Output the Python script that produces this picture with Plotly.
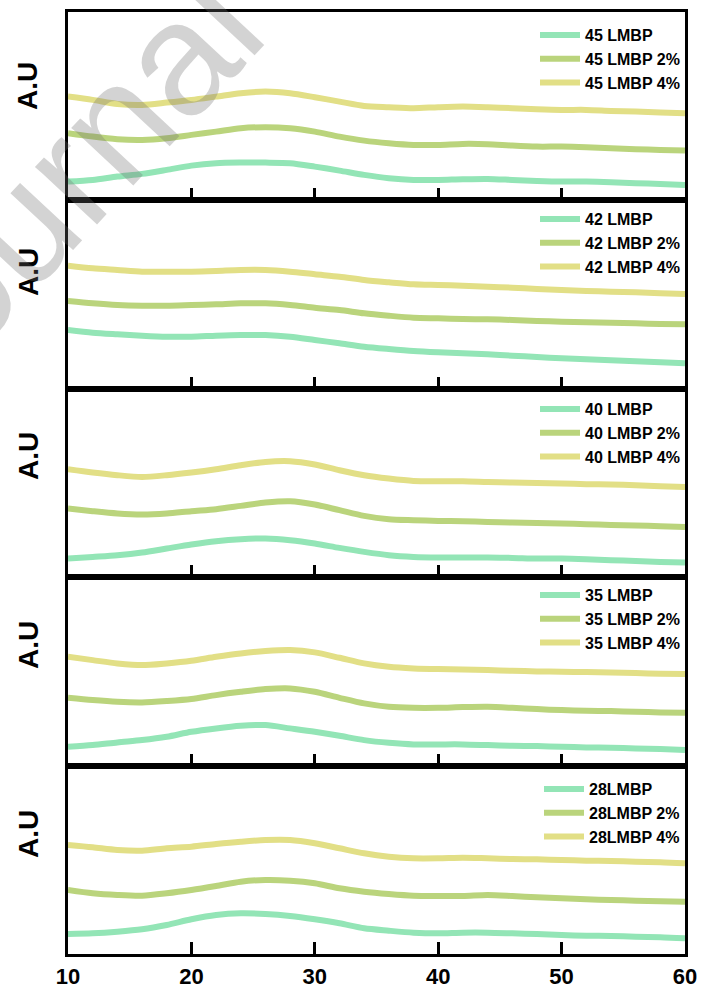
import plotly.graph_objects as go
from plotly.subplots import make_subplots

two_theta = [10, 12, 14, 16, 18, 20, 22, 24, 26, 28, 30, 32, 34, 36, 38, 40,
             42, 44, 46, 48, 50, 52, 54, 56, 58, 60]

# panel 1 (45 LMBP)
p45_0 = [18.8, 20.5, 23.8, 26.5, 30.5, 34.8, 37.2, 37.8, 37.8, 37.2, 33.8, 29.8, 25.5, 22.2, 20.5, 20.5, 21.2, 21.5, 20.5, 19.5, 18.8, 18.8, 18.2, 17.2, 16.5, 15.5]
p45_2 = [67.2, 63.8, 61.2, 60.5, 62.2, 65.5, 68.8, 72.2, 73.2, 72.2, 68.8, 63.8, 59.8, 57.2, 55.5, 55.5, 56.5, 56.2, 54.8, 53.8, 53.8, 53.2, 52.2, 51.2, 50.5, 49.8]
p45_4 = [103.8, 100.5, 96.5, 95.5, 97.8, 100.5, 103.8, 107.2, 108.8, 107.2, 103.2, 98.8, 94.5, 93.2, 92.2, 93.2, 93.8, 93.2, 92.2, 91.2, 90.5, 90.5, 89.5, 88.8, 87.8, 87.2]
# panel 2 (42 LMBP)
p42_0 = [58.8, 56.1, 54.5, 53.1, 52.1, 52.1, 53.1, 53.8, 53.8, 52.1, 48.8, 45.5, 42.1, 39.8, 37.8, 36.5, 35.5, 34.5, 33.1, 31.8, 30.5, 29.5, 28.5, 27.5, 26.5, 25.5]
p42_2 = [87.8, 85.5, 83.8, 83.1, 83.1, 83.8, 84.5, 85.5, 85.5, 83.8, 81.1, 78.8, 75.5, 73.1, 71.1, 70.5, 69.8, 69.5, 68.8, 67.8, 67.1, 66.5, 66.1, 65.5, 64.8, 64.5]
p42_4 = [123.1, 120.5, 118.8, 117.1, 117.1, 117.1, 117.8, 118.8, 118.8, 117.1, 114.5, 112.1, 108.8, 106.5, 104.5, 103.8, 103.1, 102.1, 101.1, 99.8, 98.8, 97.8, 97.1, 96.5, 95.5, 94.8]
# panel 3 (40 LMBP)
p40_0 = [18.7, 20.3, 22.0, 24.7, 28.7, 32.7, 36.0, 38.0, 38.7, 37.0, 33.7, 29.3, 25.3, 22.0, 20.3, 19.7, 19.7, 19.7, 19.3, 18.7, 18.7, 18.0, 17.0, 16.3, 15.3, 14.7]
p40_2 = [68.7, 66.0, 63.7, 62.7, 63.7, 66.0, 68.0, 71.3, 74.7, 76.0, 72.7, 67.0, 61.3, 58.0, 57.0, 56.3, 56.0, 55.3, 54.7, 54.3, 53.7, 53.0, 52.3, 51.7, 51.0, 50.3]
p40_4 = [108.0, 104.7, 102.0, 100.3, 102.0, 104.7, 108.0, 112.0, 115.3, 116.0, 112.7, 107.0, 102.0, 98.7, 96.3, 96.0, 96.0, 95.3, 94.7, 94.3, 93.7, 93.0, 92.7, 92.0, 91.0, 90.3]
# panel 4 (35 LMBP)
p35_0 = [18.8, 20.5, 23.2, 25.5, 28.8, 33.8, 37.2, 39.8, 40.5, 37.2, 33.8, 29.8, 25.5, 22.8, 21.2, 21.2, 21.2, 20.5, 19.8, 19.5, 18.8, 18.2, 17.8, 17.2, 16.5, 15.5]
p35_2 = [67.8, 65.5, 63.8, 63.2, 64.5, 66.5, 70.5, 73.8, 76.5, 77.2, 73.8, 67.8, 62.2, 58.8, 57.8, 57.8, 58.5, 58.8, 57.8, 56.5, 55.5, 54.8, 54.5, 53.8, 53.2, 52.8]
p35_4 = [108.8, 105.5, 102.2, 100.5, 102.2, 104.8, 108.8, 112.2, 114.5, 115.5, 113.2, 107.8, 102.2, 98.8, 97.2, 96.5, 96.2, 95.5, 94.8, 94.2, 93.8, 93.5, 93.2, 92.5, 91.8, 91.5]
# panel 5 (28 LMBP)
p28_0 = [20.0, 20.7, 22.3, 24.7, 29.0, 34.7, 39.0, 40.7, 40.0, 38.0, 34.7, 30.7, 25.7, 23.3, 21.3, 20.7, 21.3, 21.3, 20.7, 20.0, 19.0, 18.3, 18.0, 17.3, 16.7, 15.7]
p28_2 = [64.0, 60.7, 59.0, 58.3, 60.7, 64.0, 68.0, 72.3, 74.0, 73.3, 70.7, 65.7, 62.3, 60.0, 58.3, 58.0, 58.0, 59.0, 58.0, 56.7, 55.7, 54.7, 54.0, 53.3, 52.7, 52.3]
p28_4 = [109.0, 106.7, 104.0, 103.3, 105.7, 107.3, 110.0, 112.3, 114.0, 114.0, 110.7, 105.7, 100.7, 97.3, 95.7, 95.7, 96.3, 95.7, 95.0, 94.7, 94.0, 93.3, 93.0, 92.3, 91.7, 90.7]

panel_names = [
    ["45 LMBP", "45 LMBP 2%", "45 LMBP 4%"],
    ["42 LMBP", "42 LMBP 2%", "42 LMBP 4%"],
    ["40 LMBP", "40 LMBP 2%", "40 LMBP 4%"],
    ["35 LMBP", "35 LMBP 2%", "35 LMBP 4%"],
    ["28LMBP", "28LMBP 2%", "28LMBP 4%"],
]
panel_data = [
    [p45_0, p45_2, p45_4],
    [p42_0, p42_2, p42_4],
    [p40_0, p40_2, p40_4],
    [p35_0, p35_2, p35_4],
    [p28_0, p28_2, p28_4],
]
x_ticks = [10, 20, 30, 40, 50, 60]
colors = ["#93e5b6", "#bad47c", "#e2df86"]

W, H = 702, 991
ML, MR, MT, MB = 68, 17, 12, 37
plot_w = W - ML - MR
plot_h = H - MT - MB

FONT = "Liberation Sans, Arial, sans-serif"

fig = make_subplots(rows=5, cols=1, shared_xaxes=True, vertical_spacing=0)

legend_row1 = [33, 217, 407, 593, 787]
label_centers = [86, 272, 456, 645, 834]

for i in range(5):
    row = i + 1
    lname = "legend" if i == 0 else f"legend{i+1}"
    for j in range(3):
        fig.add_trace(go.Scatter(
            x=two_theta, y=panel_data[i][j], mode="lines",
            name=panel_names[i][j],
            line=dict(color=colors[j], width=6, shape="spline", smoothing=0.8),
            legend=lname,
        ), row=row, col=1)
    top_px = legend_row1[i] - 15
    fig.update_layout({lname: dict(
        x=1.0, xanchor="right", y=(H - MB - top_px) / plot_h, yanchor="top",
        bgcolor="rgba(0,0,0,0)", borderwidth=0,
        font=dict(family=FONT, size=16, color="black", weight="bold"),
        tracegroupgap=0, itemwidth=40,
    )})
    fig.add_annotation(
        text="<b>A.U</b>", textangle=-90, showarrow=False,
        xref="paper", yref="paper",
        x=(28 - ML) / plot_w, y=(H - MB - label_centers[i]) / plot_h,
        xanchor="center", yanchor="middle",
        font=dict(family=FONT, size=28, color="black"),
    )

fig.update_xaxes(
    range=[10, 60], tickvals=x_ticks, ticks="inside", ticklen=12, tickwidth=3,
    tickcolor="black", showline=True, linewidth=3, linecolor="black", mirror=True,
    showgrid=False, zeroline=False, ticklabelstandoff=1,
    tickfont=dict(family=FONT, size=22, color="black", weight="bold"),
)
fig.update_yaxes(
    range=[0, 188.4], showticklabels=False, ticks="", showline=True, linewidth=3,
    linecolor="black", mirror=True, showgrid=False, zeroline=False,
)

# watermark
fig.add_annotation(
    text="Journal", textangle=-47, showarrow=False,
    xref="paper", yref="paper",
    x=(52 - ML) / plot_w, y=(H - MB - 192) / plot_h,
    xanchor="center", yanchor="middle",
    font=dict(family=FONT, size=160, color="rgba(110,110,110,0.3)"),
)

fig.update_layout(
    width=W, height=H,
    margin=dict(l=ML, r=MR, t=MT, b=MB, autoexpand=False),
    paper_bgcolor="white", plot_bgcolor="white",
)

fig.write_html(
    "out.html",
    config={"displayModeBar": False},
    post_script="document.body.style.margin='0';document.body.style.overflow='hidden';",
)
